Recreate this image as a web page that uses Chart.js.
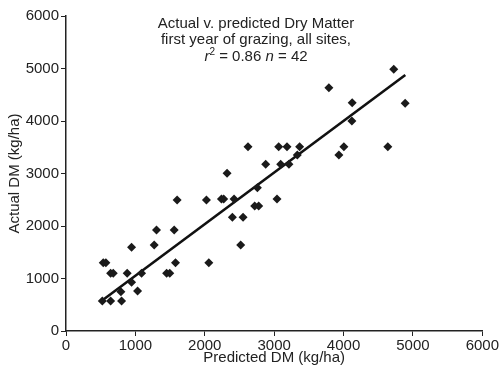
<!DOCTYPE html>
<html>
<head>
<meta charset="utf-8">
<script src="https://cdn.jsdelivr.net/npm/chart.js@4"></script>
<style>
  html, body { margin: 0; padding: 0; background: #fff; }
  #wrap { position: relative; width: 500px; height: 374px; }
  #note {
    position: absolute; left: 146px; top: 14.5px; width: 220px;
    font-family: "Liberation Sans", Arial, sans-serif; font-size: 15px;
    line-height: 16.5px; text-align: center; color: #222;
  }
  #note sup { font-size: 10px; line-height: 0; }
</style>
</head>
<body>
<div id="wrap">
  <canvas id="graf" width="500" height="374"></canvas>
  <div id="note">Actual v. predicted Dry Matter<br>first year of grazing, all sites,<br><i>r</i><sup>2</sup> = 0.86 <i>n</i> = 42</div>
</div>
<script>
// Predicted vs actual DM (kg/ha)
const predicted = [523, 643, 801, 791, 1031, 945, 1089, 882, 643, 681,
  537, 575, 945, 1271, 1450, 1495, 1578, 1304, 1559, 1602,
  2024, 2058, 2518, 2398, 2552, 2240, 2273, 2422, 2321, 2623,
  2719, 2777, 2758, 3041, 2878, 3094, 3213, 3065, 3185, 3367,
  3334, 3933, 4005, 4120, 4125, 3789, 4724, 4888, 4638];
const actual = [571, 571, 571, 749, 762, 927, 1099, 1099, 1099, 1099,
  1301, 1301, 1594, 1638, 1099, 1099, 1301, 1924, 1924, 2495,
  2495, 1300, 1638, 2165, 2165, 2514, 2514, 2514, 3003, 3511,
  2381, 2381, 2730, 2514, 3175, 3175, 3175, 3511, 3511, 3511,
  3352, 3352, 3511, 4000, 4349, 4635, 4984, 4337, 3511];
// fitted line ends
const fitX = [530, 4890];
const fitY = [590, 4876];
const ticks = [0, 1000, 2000, 3000, 4000, 5000, 6000];

const font = { family: "'Liberation Sans', Arial, sans-serif", size: 15 };
const titleFont = { family: font.family, size: 15 };

new Chart(document.getElementById("graf"), {
  type: "scatter",
  data: {
    datasets: [{
      data: predicted.map((x, i) => ({ x: x, y: actual[i] })),
      pointStyle: "rectRot",
      pointRadius: 4.5,
      backgroundColor: "#1a1a1a",
      borderColor: "#1a1a1a",
      borderWidth: 0
    }, {
      type: "line",
      data: fitX.map((x, i) => ({ x: x, y: fitY[i] })),
      borderColor: "#111",
      borderWidth: 2.6,
      pointRadius: 0,
      fill: false
    }]
  },
  options: {
    responsive: false,
    animation: false,
    layout: { padding: { top: 16, right: 17, left: 0, bottom: 0 } },
    plugins: { legend: { display: false }, tooltip: { enabled: false } },
    scales: {
      x: {
        type: "linear", min: 0, max: 6000,
        afterBuildTicks: s => { s.ticks = ticks.map(v => ({ value: v })); },
        afterFit: s => { s.height = 43; },
        grid: { drawOnChartArea: false, drawTicks: true, tickLength: 5, color: "#222" },
        border: { display: true, color: "#222", width: 1.5 },
        ticks: { color: "#222", font: font, padding: 1, maxRotation: 0, callback: v => String(v) },
        title: { display: true, text: "Predicted DM (kg/ha)", color: "#222",
          font: titleFont, padding: { top: 0, bottom: 7 } }
      },
      y: {
        type: "linear", min: 0, max: 6000,
        afterBuildTicks: s => { s.ticks = ticks.map(v => ({ value: v })); },
        afterFit: s => { s.width = 66; },
        grid: { drawOnChartArea: false, drawTicks: true, tickLength: 5, color: "#222" },
        border: { display: true, color: "#222", width: 1.5 },
        ticks: { color: "#222", font: font, padding: 2, callback: v => String(v) },
        title: { display: true, text: "Actual DM (kg/ha)", color: "#222",
          font: titleFont, padding: { top: 6, bottom: 0 } }
      }
    }
  }
});
</script>
</body>
</html>
